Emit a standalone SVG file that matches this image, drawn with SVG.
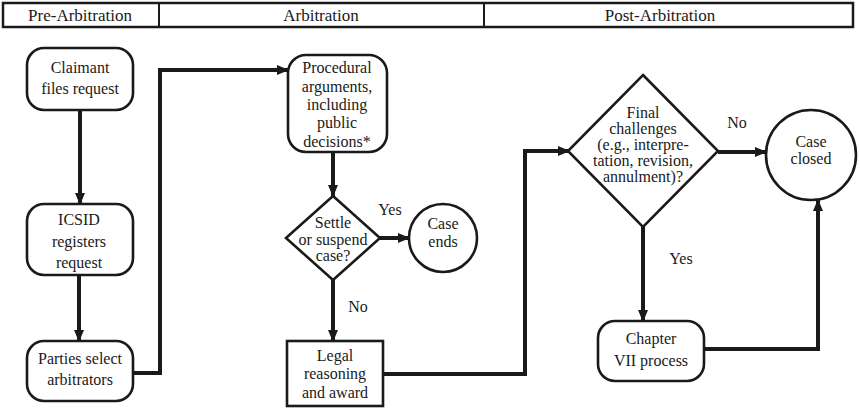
<svg xmlns="http://www.w3.org/2000/svg" width="860" height="409" viewBox="0 0 860 409">
<style>
  text { font-family: "Liberation Serif", "DejaVu Serif", serif; font-size: 16px; fill: #1a1a1a; text-anchor: middle; }
  .hdr { font-size: 17px; }
  .node { fill: #ffffff; stroke: #1a1a1a; stroke-width: 2.6; }
  .conn { fill: none; stroke: #1a1a1a; stroke-width: 4; marker-end: url(#arr); }
</style>
<defs>
  <marker id="arr" viewBox="0 0 12 10" refX="11" refY="5" markerWidth="12" markerHeight="10" markerUnits="userSpaceOnUse" orient="auto">
    <path d="M0,0 L12,5 L0,10 Z" fill="#1a1a1a"/>
  </marker>
</defs>
<rect width="860" height="409" fill="#ffffff"/>

<g id="header">
  <rect x="3" y="3" width="850" height="24" fill="#ffffff" stroke="#1a1a1a" stroke-width="2.5"/>
  <line x1="159" y1="3" x2="159" y2="27" stroke="#1a1a1a" stroke-width="2"/>
  <line x1="484" y1="3" x2="484" y2="27" stroke="#1a1a1a" stroke-width="2"/>
  <text class="hdr" x="80" y="21">Pre-Arbitration</text>
  <text class="hdr" x="321" y="21">Arbitration</text>
  <text class="hdr" x="660" y="21">Post-Arbitration</text>
</g>

<g id="connectors">
  <line class="conn" x1="80" y1="110" x2="80" y2="204"/>
  <line class="conn" x1="79" y1="275" x2="79" y2="341"/>
  <path class="conn" d="M133,373 H160 V70 H288"/>
  <line class="conn" x1="333" y1="152" x2="333" y2="196"/>
  <line class="conn" x1="380" y1="238" x2="409" y2="238"/>
  <line class="conn" x1="333" y1="280" x2="333" y2="341"/>
  <path class="conn" d="M383,374 H525 V151 H569"/>
  <line class="conn" x1="718" y1="152" x2="766" y2="152"/>
  <line class="conn" x1="643" y1="227" x2="643" y2="321"/>
  <path class="conn" d="M704,349 H818 V200"/>
</g>

<g id="claimant">
  <rect class="node" x="27" y="48" width="106" height="62" rx="17"/>
  <text x="80" y="73">Claimant</text>
  <text x="80" y="94">files request</text>
</g>

<g id="icsid">
  <rect class="node" x="27" y="204" width="106" height="71" rx="17"/>
  <text x="79" y="225">ICSID</text>
  <text x="79" y="247">registers</text>
  <text x="79" y="268">request</text>
</g>

<g id="parties">
  <rect class="node" x="27" y="341" width="106" height="60" rx="17"/>
  <text x="80" y="364">Parties select</text>
  <text x="80" y="385">arbitrators</text>
</g>

<g id="procedural">
  <rect class="node" x="288" y="55" width="99" height="97" rx="18"/>
  <text x="337" y="73">Procedural</text>
  <text x="337" y="92">arguments,</text>
  <text x="337" y="110">including</text>
  <text x="337" y="128">public</text>
  <text x="337" y="147">decisions*</text>
</g>

<g id="settle">
  <polygon class="node" points="333,196 380,238 333,280 286,238"/>
  <text x="333" y="228">Settle</text>
  <text x="333" y="245">or suspend</text>
  <text x="333" y="261">case?</text>
</g>

<g id="case-ends">
  <circle class="node" cx="443" cy="238" r="34"/>
  <text x="443" y="229">Case</text>
  <text x="443" y="247">ends</text>
</g>

<g id="legal">
  <rect class="node" x="287" y="341" width="96" height="65" stroke-width="3"/>
  <text x="335" y="361">Legal</text>
  <text x="335" y="379">reasoning</text>
  <text x="335" y="398">and award</text>
</g>

<g id="final">
  <polygon class="node" points="643,75 718,151 643,227 568,151"/>
  <text x="643" y="118">Final</text>
  <text x="643" y="134">challenges</text>
  <text x="643" y="150">(e.g., interpre-</text>
  <text x="643" y="166">tation, revision,</text>
  <text x="643" y="182">annulment)?</text>
</g>

<g id="case-closed">
  <circle class="node" cx="811" cy="155" r="45"/>
  <text x="811" y="147">Case</text>
  <text x="811" y="164">closed</text>
</g>

<g id="chapter">
  <rect class="node" x="598" y="321" width="106" height="60" rx="17"/>
  <text x="651" y="344">Chapter</text>
  <text x="651" y="366">VII process</text>
</g>

<g id="labels">
  <text x="390" y="215">Yes</text>
  <text x="358" y="312">No</text>
  <text x="737" y="128">No</text>
  <text x="681" y="264">Yes</text>
</g>
</svg>
